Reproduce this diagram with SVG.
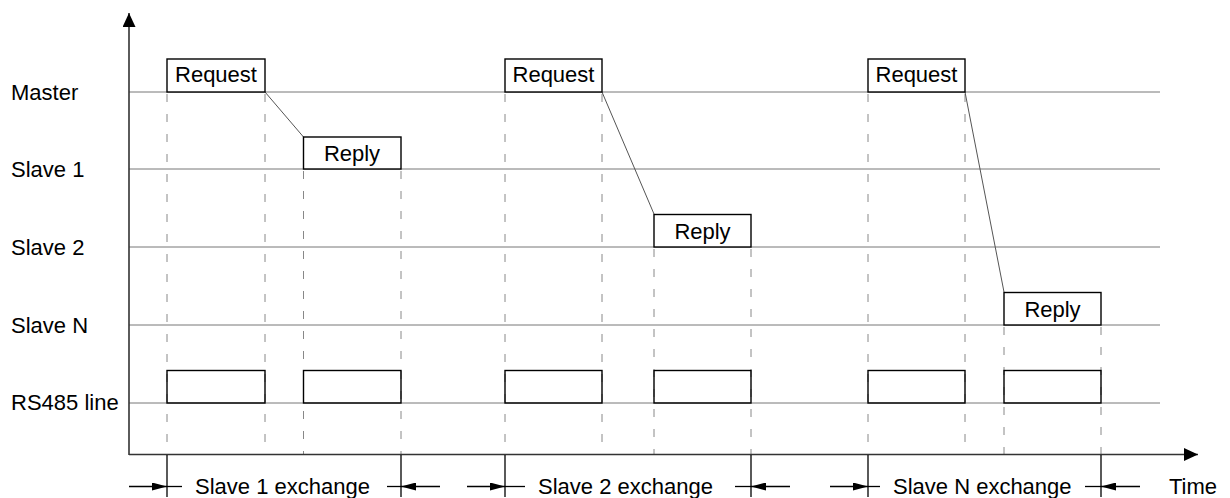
<svg xmlns="http://www.w3.org/2000/svg" width="1230" height="498" viewBox="0 0 1230 498">
<style>
text{font-family:"Liberation Sans",Arial,sans-serif;font-size:22px;fill:#000}
.grid{stroke:#777;stroke-width:1;fill:none}
.dash{stroke:#888;stroke-width:1;stroke-dasharray:8 12;fill:none}
.box{fill:#fff;stroke:#000;stroke-width:1.4}
.frame{fill:none;stroke:#000;stroke-width:1.4}
.axis{stroke:#333;stroke-width:1.6;fill:none}
.conn{stroke:#555;stroke-width:1;fill:none}
.tick{stroke:#000;stroke-width:1.3;fill:none}
.dim{stroke:#000;stroke-width:1.3;fill:none}
.mid{text-anchor:middle}
</style>
<defs>
<marker id="ah" viewBox="0 0 15 8" refX="15" refY="4" markerWidth="15" markerHeight="8" markerUnits="userSpaceOnUse" orient="auto">
<path d="M0,0 L15,4 L0,8 z" fill="#000"/>
</marker>
<marker id="axh" viewBox="0 0 14 13" refX="14" refY="6.5" markerWidth="14" markerHeight="13" markerUnits="userSpaceOnUse" orient="auto">
<path d="M0,0 L14,6.5 L0,13 z" fill="#000"/>
</marker>
</defs>

<g id="grid">
<line class="grid" x1="129" y1="92" x2="1160" y2="92"/>
<line class="grid" x1="129" y1="169" x2="1160" y2="169"/>
<line class="grid" x1="129" y1="247" x2="1160" y2="247"/>
<line class="grid" x1="129" y1="325" x2="1160" y2="325"/>
<line class="grid" x1="129" y1="403" x2="1160" y2="403"/>
</g>

<g id="dashes">
<line class="dash" x1="167" y1="94" x2="167" y2="455"/>
<line class="dash" x1="265" y1="94" x2="265" y2="455"/>
<line class="dash" x1="303.5" y1="171" x2="303.5" y2="455"/>
<line class="dash" x1="401" y1="171" x2="401" y2="455"/>
<line class="dash" x1="505" y1="94" x2="505" y2="455"/>
<line class="dash" x1="602" y1="94" x2="602" y2="455"/>
<line class="dash" x1="654" y1="249" x2="654" y2="455"/>
<line class="dash" x1="751" y1="249" x2="751" y2="455"/>
<line class="dash" x1="868" y1="94" x2="868" y2="455"/>
<line class="dash" x1="965" y1="94" x2="965" y2="455"/>
<line class="dash" x1="1004" y1="327" x2="1004" y2="455"/>
<line class="dash" x1="1101" y1="327" x2="1101" y2="455"/>
</g>

<g id="axes">
<line class="axis" x1="129" y1="455" x2="129" y2="13" marker-end="url(#axh)"/>
<line class="axis" x1="129" y1="454.5" x2="1198" y2="454.5" marker-end="url(#axh)"/>
</g>

<g id="labels">
<text x="11" y="100">Master</text>
<text x="11" y="177">Slave 1</text>
<text x="11" y="255">Slave 2</text>
<text x="11" y="333">Slave N</text>
<text x="11" y="410">RS485 line</text>
<text x="1169" y="494">Time</text>
</g>

<g id="connectors">
<line class="conn" x1="265" y1="92" x2="303.5" y2="137"/>
<line class="conn" x1="602" y1="92" x2="654" y2="214"/>
<line class="conn" x1="965" y1="92" x2="1004" y2="292"/>
</g>

<g id="request1"><rect class="box" x="167" y="59" width="98" height="33"/><text class="mid" x="216" y="82">Request</text></g>
<g id="reply1"><rect class="box" x="303.5" y="137" width="97.5" height="32"/><text class="mid" x="352" y="161">Reply</text></g>
<g id="request2"><rect class="box" x="505" y="59" width="97" height="33"/><text class="mid" x="553.5" y="82">Request</text></g>
<g id="reply2"><rect class="box" x="654" y="214.5" width="97" height="32.5"/><text class="mid" x="702.5" y="239">Reply</text></g>
<g id="requestN"><rect class="box" x="868" y="59" width="97" height="33"/><text class="mid" x="916.5" y="82">Request</text></g>
<g id="replyN"><rect class="box" x="1004" y="292.5" width="97" height="32.5"/><text class="mid" x="1052.5" y="317">Reply</text></g>

<g id="rs485">
<rect class="frame" x="167" y="370.5" width="98" height="32.5"/>
<rect class="frame" x="303.5" y="370.5" width="97.5" height="32.5"/>
<rect class="frame" x="505" y="370.5" width="97" height="32.5"/>
<rect class="frame" x="654" y="370.5" width="97" height="32.5"/>
<rect class="frame" x="868" y="370.5" width="97" height="32.5"/>
<rect class="frame" x="1004" y="370.5" width="97" height="32.5"/>
</g>

<g id="exchange1">
<line class="tick" x1="167" y1="455" x2="167" y2="497"/>
<line class="tick" x1="401" y1="455" x2="401" y2="497"/>
<line class="dim" x1="129" y1="486.5" x2="167" y2="486.5" marker-end="url(#ah)"/>
<line class="dim" x1="167" y1="486.5" x2="182" y2="486.5"/>
<line class="dim" x1="387" y1="486.5" x2="401" y2="486.5"/>
<line class="dim" x1="440" y1="486.5" x2="401" y2="486.5" marker-end="url(#ah)"/>
<text x="195" y="494">Slave 1 exchange</text>
</g>
<g id="exchange2">
<line class="tick" x1="505" y1="455" x2="505" y2="497"/>
<line class="tick" x1="751" y1="455" x2="751" y2="497"/>
<line class="dim" x1="467" y1="486.5" x2="505" y2="486.5" marker-end="url(#ah)"/>
<line class="dim" x1="505" y1="486.5" x2="525" y2="486.5"/>
<line class="dim" x1="735" y1="486.5" x2="751" y2="486.5"/>
<line class="dim" x1="790" y1="486.5" x2="751" y2="486.5" marker-end="url(#ah)"/>
<text x="538" y="494">Slave 2 exchange</text>
</g>
<g id="exchangeN">
<line class="tick" x1="868" y1="455" x2="868" y2="497"/>
<line class="tick" x1="1101" y1="455" x2="1101" y2="497"/>
<line class="dim" x1="830" y1="486.5" x2="868" y2="486.5" marker-end="url(#ah)"/>
<line class="dim" x1="868" y1="486.5" x2="880" y2="486.5"/>
<line class="dim" x1="1085" y1="486.5" x2="1101" y2="486.5"/>
<line class="dim" x1="1140" y1="486.5" x2="1101" y2="486.5" marker-end="url(#ah)"/>
<text x="893" y="494">Slave N exchange</text>
</g>
</svg>
